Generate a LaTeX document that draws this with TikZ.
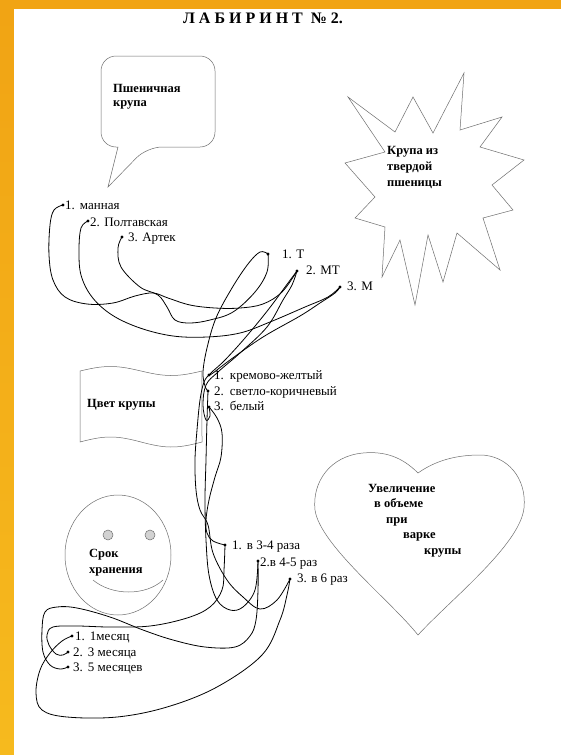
\documentclass[tikz,border=0pt]{standalone}
\usepackage{fontspec}
\setmainfont{Liberation Serif}
\definecolor{orTop}{RGB}{241,164,20}
\definecolor{orBot}{RGB}{246,186,30}
\definecolor{shapegray}{RGB}{110,110,110}
\tikzset{
  shapeline/.style={draw=shapegray, line width=0.5pt},
  wire/.style={draw=black, line width=0.8pt, line cap=round, line join=round},
  itemtxt/.style={anchor=base west, inner sep=0pt, font=\fontsize{13}{15}\selectfont},
  boldtxt/.style={anchor=base west, inner sep=0pt, font=\bfseries\fontsize{12.5}{15}\selectfont},
  titletxt/.style={anchor=base, inner sep=0pt, font=\bfseries\fontsize{16}{18}\selectfont},
}
\begin{document}
\begin{tikzpicture}[x=1pt,y=-1pt]
\useasboundingbox (0,0) rectangle (561,755);
% background
\fill[orTop] (0,0) rectangle (561,9);
\shade[top color=orTop, bottom color=orBot] (0,9) rectangle (14,755);
\fill[white] (14,9) rectangle (561,755);

% title
\node[titletxt] (title) at (263,23) {Л А Б И Р И Н Т \ № 2.};

% speech bubble
\draw[shapeline, rounded corners=15pt] (101,100) -- (101,56) -- (215,56) -- (215,147) -- (147,147) [sharp corners] -- (108,187) -- (118,147) [rounded corners=15pt] -- (101,147) -- cycle;
\node[boldtxt] (bub1) at (113,92) {Пшеничная};
\node[boldtxt] (bub2) at (113,106) {крупа};

% star
\draw[shapeline] (348,97) -- (395,132) -- (413,97) -- (433,133) -- (464,73) -- (460,130) -- (502,117) -- (480,147) -- (524,160) -- (492,185) -- (513,210) -- (483,218) -- (500,270) -- (457,233) -- (443,282) -- (428,235) -- (415,305) -- (400,240) -- (382,277) -- (385,227) -- (355,218) -- (375,197) -- (345,163) -- (385,152) -- cycle;
\node[boldtxt] (st1) at (387,154) {Крупа из};
\node[boldtxt] (st2) at (387,170) {твердой};
\node[boldtxt] (st3) at (387,186) {пшеницы};

% flag
\draw[shapeline] plot[domain=0:1, samples=40, smooth] ({80+122*\x},{371-4.5*sin(360*\x)}) -- plot[domain=1:0, samples=40, smooth] ({80+122*\x},{442-5*sin(360*\x)}) -- cycle;
\node[boldtxt] (flagtxt) at (87,407) {Цвет крупы};

% smiley
\draw[shapeline] (118,555) ellipse (53 and 60);
\draw[shapeline, fill=gray!35] (108,535) circle (5);
\draw[shapeline, fill=gray!35] (150,535) circle (5);
\draw[shapeline] (93,580) .. controls (112,596) and (146,596) .. (163,580);
\node[boldtxt] (sm1) at (89,557) {Срок};
\node[boldtxt] (sm2) at (89,573) {хранения};

% heart
\draw[shapeline] (418,473) .. controls (402,457) and (385,451) .. (363,453) .. controls (330,456) and (312,482) .. (315,510) .. controls (320,545) and (390,600) .. (418,635) .. controls (450,600) and (520,545) .. (524,508) .. controls (527,478) and (507,455) .. (480,455) .. controls (455,455) and (435,461) .. (418,473) -- cycle;
\node[boldtxt] (h1) at (368,492) {Увеличение};
\node[boldtxt] (h2) at (374,507) {в объеме};
\node[boldtxt] (h3) at (386,523) {при};
\node[boldtxt] (h4) at (403,538) {варке};
\node[boldtxt] (h5) at (424,554) {крупы};

% item texts
\node[itemtxt] (tm1) at (65,209) {1.\hspace{5pt}манная};
\node[itemtxt] (tm2) at (90,226) {2. Полтавская};
\node[itemtxt] (tm3) at (128,241) {3. Артек};
\node[itemtxt] (tt1) at (282,258) {1. Т};
\node[itemtxt] (tt2) at (306,274) {2. МТ};
\node[itemtxt] (tt3) at (347,290) {3. М};
\node[itemtxt] (tc1) at (214,379) {1.\hspace{6pt}кремово-желтый};
\node[itemtxt] (tc2) at (214,395) {2.\hspace{6pt}светло-коричневый};
\node[itemtxt] (tc3) at (214,410) {3.\hspace{6pt}белый};
\node[itemtxt] (tr1) at (232,549) {1.\hspace{5pt}в 3-4 раза};
\node[itemtxt] (tr2) at (260,566) {2.в 4-5 раз};
\node[itemtxt] (tr3) at (297,582) {3. в 6 раз};
\node[itemtxt] (ts1) at (75,640) {1.\hspace{5pt}1месяц};
\node[itemtxt] (ts2) at (73,656) {2.\hspace{5pt}3 месяца};
\node[itemtxt] (ts3) at (73,671) {3.\hspace{5pt}5 месяцев};

% wire end points
\coordinate (m1) at (63,205);
\coordinate (m2) at (88,221);
\coordinate (m3) at (122,237);
\coordinate (t1) at (268,254);
\coordinate (t2) at (297,271);
\coordinate (t3) at (340,287);
\coordinate (c1) at (209,375);
\coordinate (c2) at (208,391);
\coordinate (c3) at (209,407);
\coordinate (r1) at (225,545);
\coordinate (r2) at (258,561);
\coordinate (r3) at (290,579);
\coordinate (s1) at (72,636);
\coordinate (s2) at (68,652);
\coordinate (s3) at (68,667);

% top wires
\draw[wire] plot[smooth, tension=0.6] coordinates {(m1) (54,210) (50,225) (49,255) (53,280) (65,297) (87,304) (113,303) (135,296) (153,293) (168,298) (190,305) (215,308) (240,308) (263,304) (282,292) (t2)};
\draw[wire] plot[smooth, tension=0.6] coordinates {(m2) (81,228) (79,250) (81,275) (92,297) (112,315) (140,328) (173,336) (207,337) (240,333) (270,322) (305,307) (328,297) (t3)};
\draw[wire] plot[smooth, tension=0.6] coordinates {(m3) (118,248) (121,267) (140,287) (158,295) (167,307) (175,320) (190,323) (210,320) (233,312) (255,292) (267,272) (t1)};
\draw[wire] plot[smooth, tension=0.6] coordinates {(t1) (260,252) (248,264) (232,288) (216,318) (207,348) (203,372) (205,386) (c2)};
\draw[wire] plot[smooth, tension=0.6] coordinates {(t2) (288,283) (268,310) (245,338) (225,360) (213,371) (c1)};
\draw[wire] plot[smooth, tension=0.6] coordinates {(t2) (292,285) (283,300) (267,327) (240,353) (218,372) (206,385) (203,405) (206,420) (210,416) (c3)};
\draw[wire] plot[smooth, tension=0.6] coordinates {(t3) (335,293) (320,303) (300,316) (263,337) (230,360) (213,373) (c1)};

% middle wires
\draw[wire] plot[smooth, tension=0.6] coordinates {(c3) (217,418) (222,433) (221,457) (215,477) (209,500) (206,520) (207,533) (213,541) (r1)};
\draw[wire] plot[smooth, tension=0.6] coordinates {(c1) (204,382) (200,400) (197,430) (195,460) (196,490) (200,510) (208,525) (213,553) (227,580) (243,597) (260,609) (277,600) (r3)};
\draw[wire] plot[smooth, tension=0.6] coordinates {(c2) (207,420) (206,460) (205,500) (206,540) (209,575) (217,600) (230,610) (243,607) (255,590) (r2)};

% bottom wires
\draw[wire] plot[smooth, tension=0.6] coordinates {(r1) (224,570) (222,590) (210,607) (187,618) (150,626) (110,627) (77,626) (53,627) (47,635) (49,645) (56,654) (63,655) (s2)};
\draw[wire] plot[smooth, tension=0.6] coordinates {(r2) (258,590) (256,620) (250,636) (235,647) (205,647) (173,640) (143,630) (110,617) (77,608) (57,607) (45,612) (42,630) (43,652) (50,665) (60,669) (s3)};
\draw[wire] plot[smooth, tension=0.6] coordinates {(r3) (287,595) (280,620) (262,655) (217,687) (167,707) (117,717) (67,717) (42,710) (36,693) (40,670) (50,653) (62,641) (s1)};

% dots
\foreach \p in {m1,m2,m3,t1,t2,t3,c1,c2,c3,r1,r2,r3,s1,s2,s3}
  \fill (\p) circle (1.6);
\end{tikzpicture}
\end{document}
